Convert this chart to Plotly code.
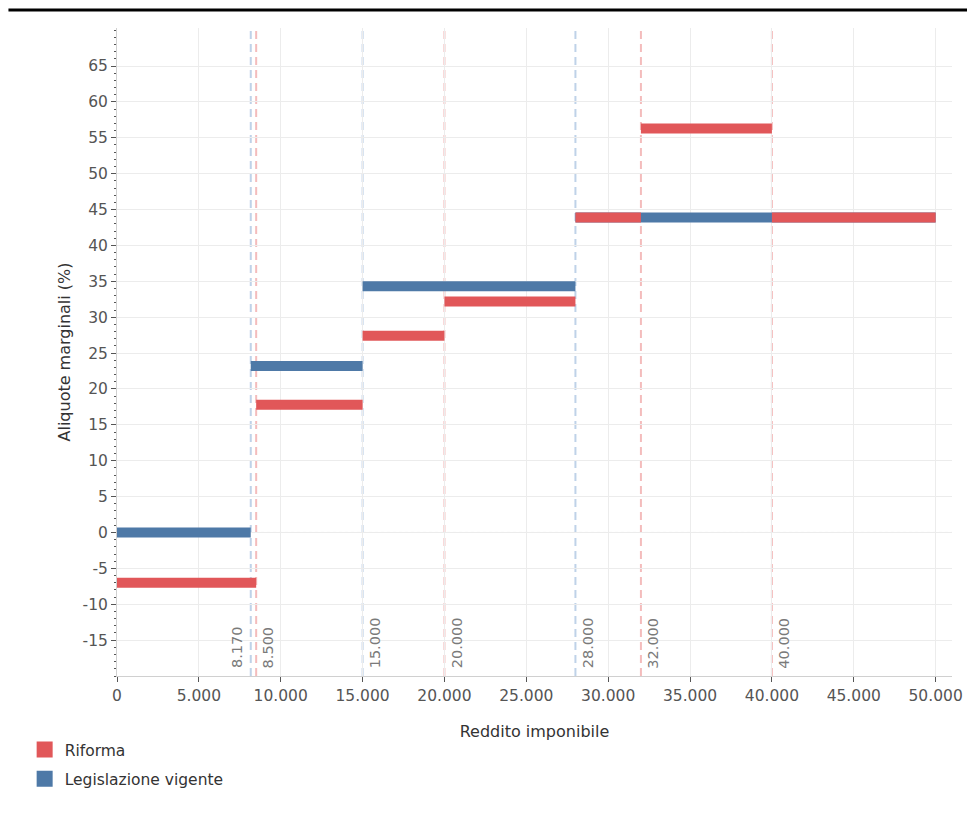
import plotly.graph_objects as go

# ---- data ----
riforma_start = [0, 8500, 15000, 20000, 28000, 32000, 40000]
riforma_end = [8500, 15000, 20000, 28000, 32000, 40000, 50000]
riforma_rate = [-7.0, 17.8, 27.4, 32.2, 43.9, 56.3, 43.9]

vigente_start = [0, 8170, 15000, 28000]
vigente_end = [8170, 15000, 28000, 50000]
vigente_rate = [0.0, 23.2, 34.3, 43.9]

riforma_thresholds = [8500, 20000, 32000, 40000]
vigente_thresholds = [8170, 15000, 28000]

x_tick_vals = [0, 5000, 10000, 15000, 20000, 25000, 30000, 35000, 40000, 45000, 50000]
x_tick_text = ["0", "5.000", "10.000", "15.000", "20.000", "25.000", "30.000",
               "35.000", "40.000", "45.000", "50.000"]
y_tick_vals = [-15, -10, -5, 0, 5, 10, 15, 20, 25, 30, 35, 40, 45, 50, 55, 60, 65]
y_tick_text = ["-15", "-10", "-5", "0", "5", "10", "15", "20", "25", "30", "35",
               "40", "45", "50", "55", "60", "65"]

RED = "#e15759"
BLUE = "#4e79a7"
RED_LIGHT = "#f4bcbc"
BLUE_LIGHT = "#bfd2e8"
FONT = "DejaVu Sans"


def fmt(v):
    return f"{v:,}".replace(",", ".")


def segs(starts, ends, rates):
    xs, ys = [], []
    for s, e, r in zip(starts, ends, rates):
        xs += [s, e, None]
        ys += [r, r, None]
    return xs, ys


fig = go.Figure()

bx, by = segs(vigente_start, vigente_end, vigente_rate)
fig.add_trace(go.Scatter(x=bx, y=by, mode="lines", line=dict(color=BLUE, width=10),
                         showlegend=False, hoverinfo="skip"))
rx, ry = segs(riforma_start, riforma_end, riforma_rate)
fig.add_trace(go.Scatter(x=rx, y=ry, mode="lines", line=dict(color=RED, width=10),
                         showlegend=False, hoverinfo="skip"))

# legend entries
fig.add_trace(go.Scatter(x=[None], y=[None], mode="markers", name="Riforma", legendgroup="r",
                         marker=dict(symbol="square", size=18, color=RED)))
fig.add_trace(go.Scatter(x=[None], y=[None], mode="markers", name="Legislazione vigente",
                         legendgroup="v", marker=dict(symbol="square", size=18, color=BLUE)))

shapes = []
annotations = []
for v in vigente_thresholds:
    shapes.append(dict(type="line", xref="x", yref="paper", x0=v, x1=v, y0=0, y1=1,
                       line=dict(color=BLUE_LIGHT, width=2, dash="8px,5px"), layer="between"))
for v in riforma_thresholds:
    shapes.append(dict(type="line", xref="x", yref="paper", x0=v, x1=v, y0=0, y1=1,
                       line=dict(color=RED_LIGHT, width=2, dash="8px,5px"), layer="between"))

for v in vigente_thresholds + riforma_thresholds:
    left = v == 8170
    annotations.append(dict(x=v, y=-19.2, xref="x", yref="y", text=fmt(v), showarrow=False,
                            textangle=-90, xanchor="right" if left else "left",
                            yanchor="bottom", xshift=-3 if left else 2,
                            font=dict(family=FONT, size=14.5, color="#7a7a7a")))

# dotted zero line
shapes.append(dict(type="line", xref="paper", yref="y", x0=0, x1=1, y0=0, y1=0,
                   line=dict(color="#b0b0b0", width=1, dash="dot"), layer="between"))

# top black rule
shapes.append(dict(type="line", xref="paper", yref="paper", x0=-0.13, x1=1.03,
                   y0=1.0278, y1=1.0278, line=dict(color="black", width=3)))

fig.update_layout(
    width=967, height=828,
    margin=dict(l=109, r=17, t=20, b=160),
    plot_bgcolor="white", paper_bgcolor="white",
    font=dict(family=FONT, size=16, color="#555555"),
    shapes=shapes, annotations=annotations,
    legend=dict(x=-0.1106, y=-0.088, xanchor="left", yanchor="top",
                font=dict(family=FONT, size=15.5, color="#333333"),
                itemsizing="trace", tracegroupgap=6, bgcolor="rgba(0,0,0,0)"),
)

fig.update_xaxes(range=[0, 51000], tickvals=x_tick_vals, ticktext=x_tick_text,
                 showgrid=True, gridcolor="#ececec", gridwidth=1,
                 zeroline=False, showline=True, linecolor="#d0d0d0",
                 ticks="outside", ticklen=5, tickcolor="#555555",
                 tickfont=dict(size=15.5, color="#555555"),
                 title=dict(text="Reddito imponibile", standoff=22,
                            font=dict(size=16, color="#333333")))
fig.update_yaxes(range=[-20, 70.3], tickvals=y_tick_vals, ticktext=y_tick_text,
                 showgrid=True, gridcolor="#ececec", gridwidth=1,
                 zeroline=False, showline=True, linecolor="#d0d0d0",
                 ticks="outside", ticklen=5, tickcolor="#555555",
                 minor=dict(dtick=1, tick0=0, ticks="outside", ticklen=2, tickcolor="#555555",
                            showgrid=False),
                 tickfont=dict(size=15.5, color="#555555"),
                 title=dict(text="Aliquote marginali (%)", standoff=7,
                            font=dict(size=16, color="#333333")))

fig.write_html("out.html")
